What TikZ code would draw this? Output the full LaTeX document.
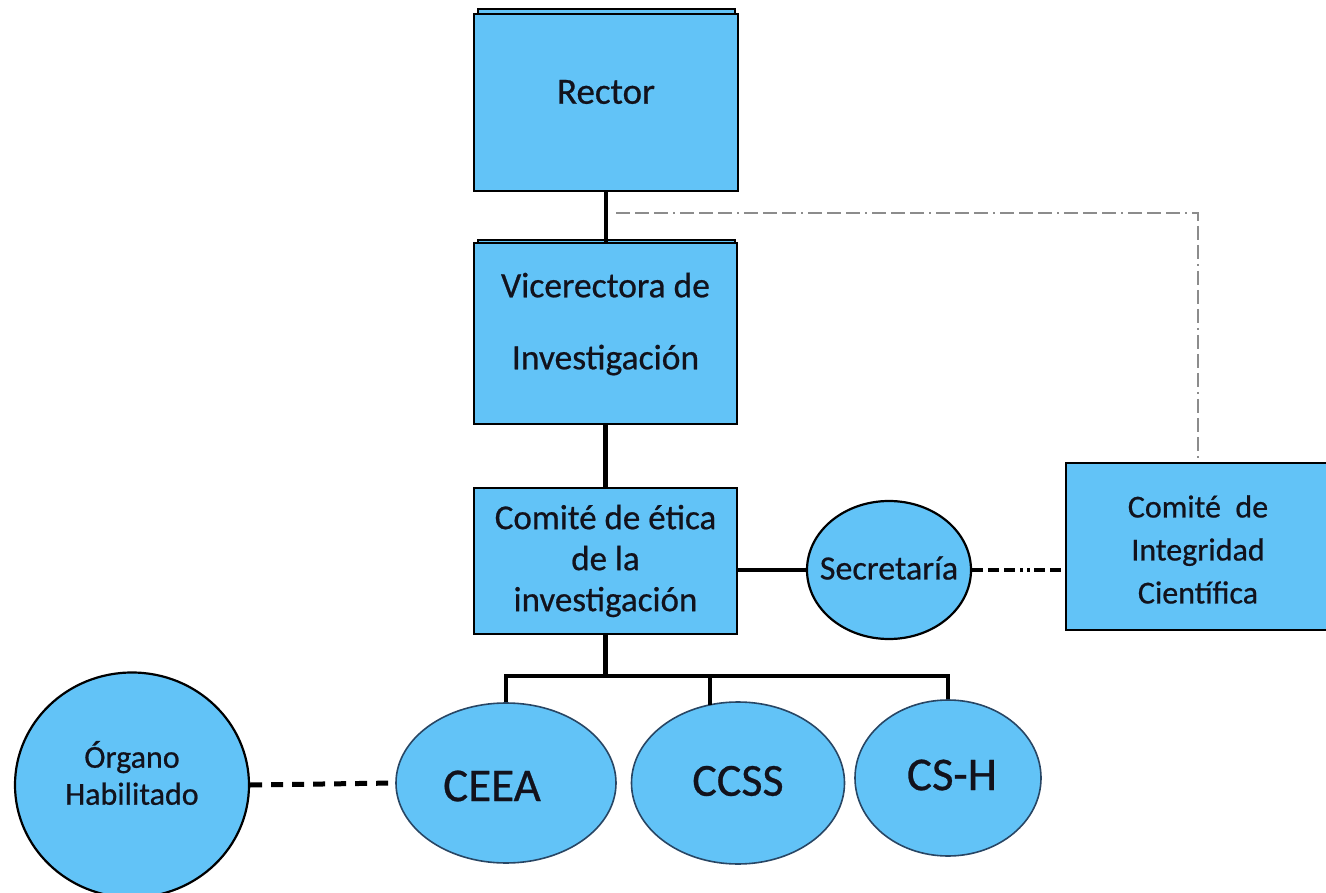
\documentclass[tikz,border=0pt]{standalone}
\usepackage{fontspec}
\setmainfont{Carlito}[FakeBold=0.6]
\usetikzlibrary{shapes.geometric}

\definecolor{orgblue}{RGB}{98,195,247}
\definecolor{orgtext}{RGB}{18,18,28}
\definecolor{ovalline}{RGB}{40,70,100}

\begin{document}
\begin{tikzpicture}[x=1pt,y=-1pt,
    box/.style={draw=black, line width=2pt, fill=orgblue, text=orgtext, align=center, inner sep=0pt},
    oval/.style={ellipse, draw=ovalline, line width=1.6pt, fill=orgblue, inner sep=0pt},
    round/.style={ellipse, draw=black, line width=2.2pt, fill=orgblue, inner sep=0pt},
    tag/.style={text=orgtext, align=center},
    link/.style={line width=4.5pt},
    dashlink/.style={line width=4pt, dash pattern=on 11pt off 5pt on 11pt off 5pt on 11pt off 5pt on 3pt off 4pt on 3pt off 4pt},
    dotlink/.style={line width=5pt, dash pattern=on 12pt off 9pt},
    graylink/.style={draw=gray!90, line width=1.8pt, dash pattern=on 14pt off 5pt on 14pt off 5pt on 14pt off 5pt on 2pt off 5pt}]
    \fill[white] (0,0) rectangle (1326,893);
    \useasboundingbox (0,0) rectangle (1326,893);

    % boxes
    \draw[box, line width=1.5pt] (478,9) rectangle (735,14);
    \node[box, minimum width=264pt, minimum height=177pt,
        label={[tag, yshift=10.5pt, font=\fontsize{37}{40}\selectfont]center:Rector}] (rector) at (606,102.5) {};
    \draw[box, line width=1.5pt] (478,240) rectangle (735,243);
    \node[box, minimum width=263pt, minimum height=181pt,
        label={[tag, yshift=9.5pt, font=\fontsize{35.5}{72}\selectfont]center:Vicerectora de\\Investigación}] (vice) at (605.5,333.5) {};
    \node[box, minimum width=263pt, minimum height=146pt, font=\fontsize{35}{41}\selectfont] (etica) at (605.5,561) {Comité de ética\\de la\\investigación};
    \node[round, minimum width=164pt, minimum height=138pt,
        label={[tag, yshift=2pt, font=\fontsize{34}{38}\selectfont]center:Secretaría}] (secre) at (889,570) {};
    \node[box, minimum width=264pt, minimum height=167pt,
        label={[tag, yshift=-3pt, font=\fontsize{32}{43}\selectfont]center:Comité\ \ de\\Integridad\\Científica}] (integ) at (1198,546.5) {};

    % ovals
    \node[round, minimum width=234pt, minimum height=225pt,
        label={[tag, yshift=12pt, font=\fontsize{32}{37}\selectfont]center:Órgano\\Habilitado}] (organo) at (132,785) {};
    \node[oval, minimum width=220pt, minimum height=160pt,
        label={[tag, xshift=-14pt, yshift=-3pt, font=\fontsize{47}{50}\selectfont]center:CEEA}] (ceea) at (506,783) {};
    \node[oval, minimum width=213pt, minimum height=162pt,
        label={[tag, yshift=2pt, font=\fontsize{46}{50}\selectfont]center:CCSS}] (ccss) at (738,783) {};
    \node[oval, minimum width=186pt, minimum height=156pt,
        label={[tag, xshift=4pt, yshift=3pt, font=\fontsize{47}{50}\selectfont]center:CS-H}] (csh) at (948,778) {};

    % links
    \coordinate (tap) at (616,213);
    \coordinate (bar) at (605.5,676);
    \coordinate (ccsstop) at (710,705);
    \draw[link] (rector.south) -- (rector.south |- vice.north);
    \draw[link] (vice.south) -- (etica.north);
    \draw[link] (etica.south) -- (bar);
    \draw[link] (ceea.north) -- (ceea.north |- bar) -- (csh.north |- bar) -- (csh.north);
    \draw[link] (ccsstop |- bar) -- (ccsstop);
    \draw[link, line width=4pt] (secre.west) -- (secre.west -| etica.east);
    \draw[dashlink] (secre.east) -- (secre.east -| integ.west);
    \draw[dotlink] (organo.east) -- (ceea.west);
    \draw[graylink] (tap) -| (integ.north);
\end{tikzpicture}
\end{document}
